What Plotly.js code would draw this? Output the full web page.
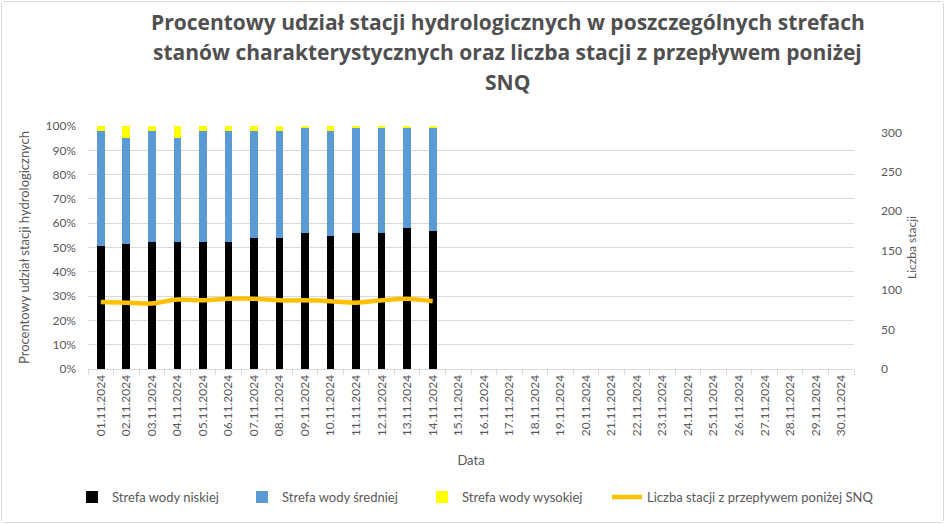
<!DOCTYPE html>
<html>
<head>
<meta charset="utf-8">
<script src="https://cdn.plot.ly/plotly-3.0.1.min.js"></script>
<style>
html,body{margin:0;padding:0;background:#fff;}
#chart{position:absolute;left:1px;top:1px;width:941px;height:520px;border:1px solid #d9d9d9;border-radius:3px;}
</style>
</head>
<body>
<div id="chart"></div>
<script>
// Categories (dates)
const dates = ["01.11.2024","02.11.2024","03.11.2024","04.11.2024","05.11.2024","06.11.2024","07.11.2024","08.11.2024","09.11.2024","10.11.2024",
  "11.11.2024","12.11.2024","13.11.2024","14.11.2024","15.11.2024","16.11.2024","17.11.2024","18.11.2024","19.11.2024","20.11.2024",
  "21.11.2024","22.11.2024","23.11.2024","24.11.2024","25.11.2024","26.11.2024","27.11.2024","28.11.2024","29.11.2024","30.11.2024"];

// Percent share of stations (0-1)
const strefaNiska   = [0.506,0.514,0.524,0.524,0.524,0.524,0.539,0.539,0.558,0.549,0.558,0.558,0.579,0.568];
const strefaSrednia = [0.473,0.436,0.456,0.426,0.456,0.456,0.441,0.441,0.432,0.431,0.432,0.432,0.411,0.425];
const strefaWysoka  = [0.021,0.050,0.020,0.050,0.020,0.020,0.020,0.020,0.010,0.020,0.010,0.010,0.010,0.007];

// Number of stations with flow below SNQ
const liczbaSNQ = [85,84,83,88,87,89,89,87,87,86,84,87,89,86];

const legendNames = ["Strefa wody niskiej","Strefa wody średniej","Strefa wody wysokiej","Liczba stacji z przepływem poniżej SNQ"];
const titleLines = ["Procentowy udział stacji hydrologicznych w poszczególnych strefach",
  "stanów charakterystycznych oraz liczba stacji z przepływem poniżej",
  "SNQ"];
const yLeftTicks = [0,0.1,0.2,0.3,0.4,0.5,0.6,0.7,0.8,0.9,1.0];
const yRightTicks = [0,50,100,150,200,250,300];

const FONT = "Lato, 'Open Sans', sans-serif";
const TFONT = "'Open Sans', Lato, sans-serif";
const GRAY = "#595959";
const xs = dates.slice(0, strefaNiska.length);

const traces = [
  {type:"bar", name:legendNames[0], x:xs, y:strefaNiska, marker:{color:"#000000"}, yaxis:"y", legend:"legend"},
  {type:"bar", name:legendNames[1], x:xs, y:strefaSrednia, marker:{color:"#5B9BD5"}, yaxis:"y", legend:"legend2"},
  {type:"bar", name:legendNames[2], x:xs, y:strefaWysoka, marker:{color:"#FFFF00"}, yaxis:"y", legend:"legend3"},
  {type:"scatter", mode:"lines", name:legendNames[3], x:xs, y:liczbaSNQ, yaxis:"y2", legend:"legend4",
   line:{color:"#FFC000", width:4.5, shape:"spline", smoothing:0.8}}
];

const titleY = [1.428, 1.3045, 1.181];
const annotations = titleLines.map((t,i)=>({
  text:"<b>"+t+"</b>", xref:"paper", yref:"paper", x:0.548, xanchor:"center",
  y:titleY[i], yanchor:"middle", showarrow:false,
  font:{family:TFONT, size:21, color:"#505050"}
}));

// legend placement (text start in page px)
const legTextStart = [114, 284, 464, 649];
function legendAt(px){
  return {orientation:"h", xref:"container", yref:"container", x:(px-44)/941, xanchor:"left",
          y:0.048, yanchor:"middle", font:{family:FONT, size:13, color:GRAY}, bgcolor:"rgba(0,0,0,0)"};
}

const layout = {
  width:941, height:520,
  margin:{l:86, r:89, t:124, b:153},
  paper_bgcolor:"#ffffff", plot_bgcolor:"#ffffff",
  font:{family:FONT, size:12, color:GRAY},
  barmode:"stack", bargap:0.7,
  showlegend:true,
  legend:legendAt(legTextStart[0]),
  legend2:legendAt(legTextStart[1]),
  legend3:legendAt(legTextStart[2]),
  legend4:legendAt(legTextStart[3]),
  annotations:annotations,
  xaxis:{type:"category", categoryorder:"array", categoryarray:dates, range:[-0.5, dates.length-0.5],
         tickmode:"array", tickvals:dates, ticktext:dates, tickangle:-90,
         showline:true, linecolor:"#d9d9d9", linewidth:1,
         ticks:"outside", tickson:"boundaries", ticklen:5, tickcolor:"#d9d9d9",
         showgrid:false, tickfont:{family:FONT, size:12, color:GRAY},
         title:{text:"Data", standoff:20, font:{family:FONT, size:13, color:GRAY}}},
  yaxis:{range:[0,1], tickmode:"array", tickvals:yLeftTicks, tickformat:".0%",
         showgrid:true, gridcolor:"#d9d9d9", gridwidth:1, zeroline:false, showline:false,
         ticks:"", ticklabelstandoff:11, tickfont:{family:FONT, size:12, color:GRAY},
         title:{text:"Procentowy udział stacji hydrologicznych", standoff:12, font:{family:FONT, size:13, color:GRAY}}},
  yaxis2:{range:[0,308], overlaying:"y", side:"right", tickmode:"array", tickvals:yRightTicks,
          showgrid:false, zeroline:false, showline:false, ticks:"", ticklabelstandoff:26,
          tickfont:{family:FONT, size:12, color:GRAY},
          title:{text:"Liczba stacji", standoff:6, font:{family:FONT, size:12, color:GRAY}}}
};

Plotly.newPlot("chart", traces, layout, {displayModeBar:false, staticPlot:true});
</script>
</body>
</html>
